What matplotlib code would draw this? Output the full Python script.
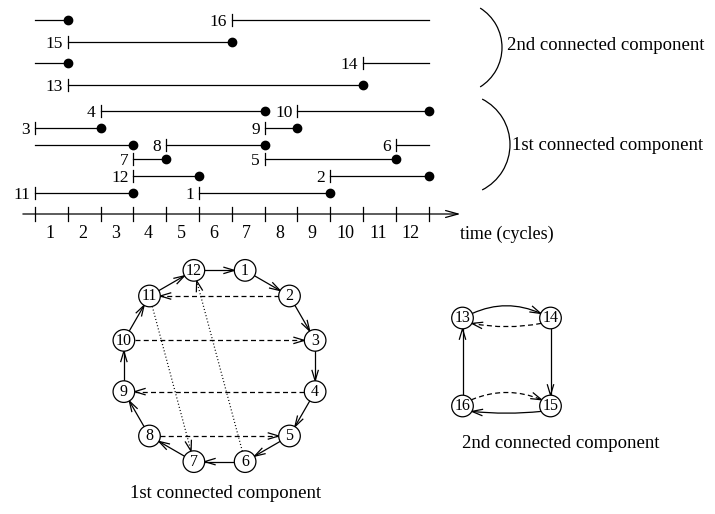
import numpy as np
import matplotlib
matplotlib.use('Agg')
import matplotlib.pyplot as plt
from matplotlib.patches import Circle, Arc, PathPatch
from matplotlib.path import Path

plt.rcParams['font.family'] = ['Liberation Serif', 'DejaVu Serif']

# ---------------- data ----------------
# lifetime intervals (in cycles); end < start means the interval wraps around
interval_ids = [16, 15, 14, 13, 4, 10, 3, 9, 6, 8, 7, 5, 12, 2, 11, 1]
interval_starts = [6, 1, 10, 1, 2, 8, 0, 7, 11, 4, 3, 7, 3, 9, 0, 5]
interval_ends = [1, 6, 1, 10, 7, 12, 2, 8, 3, 7, 4, 11, 5, 12, 3, 9]
interval_lanes = [0, 1, 2, 3, 4, 4, 5, 5, 6, 6, 7, 7, 8, 8, 9, 9]
n_cycles = 12
cycle_labels = ['1', '2', '3', '4', '5', '6', '7', '8', '9', '10', '11', '12']
axis_label = 'time (cycles)'
group_labels = ['2nd connected component', '1st connected component']

# graph of the 1st connected component
g1_nodes = [1, 2, 3, 4, 5, 6, 7, 8, 9, 10, 11, 12]
g1_solid = [(12, 1), (1, 2), (2, 3), (3, 4), (4, 5), (5, 6), (6, 7), (7, 8),
            (8, 9), (9, 10), (10, 11), (11, 12)]
g1_dashed = [(2, 11), (10, 3), (4, 9), (8, 5)]
g1_dotted = [(11, 7), (6, 12)]

# graph of the 2nd connected component
g2_nodes = [13, 14, 15, 16]
g2_straight = [(14, 15), (16, 13)]
g2_curved = [(13, 14, 'solid'), (14, 13, 'dashed'), (16, 15, 'dashed'), (15, 16, 'solid')]

# ---------------- layout / style ----------------
W_PX, H_PX = 715, 514
fig = plt.figure(figsize=(W_PX / 100, H_PX / 100), dpi=100)
LW = 0.9
DASH = (0, (4, 2.6))
DOT = (0, (0.8, 1.8))

# pixel overlay axes for decorations
ax_px = fig.add_axes([0, 0, 1, 1])
ax_px.set_xlim(0, W_PX)
ax_px.set_ylim(H_PX, 0)
ax_px.axis('off')

# timeline axes: x in cycles, y in pixel rows
T0_PX, UNIT_PX = 35.0, 32.8
ax_t = fig.add_axes([0, 0, 1, 1])
ax_t.set_xlim(-T0_PX / UNIT_PX, (W_PX - T0_PX) / UNIT_PX)
ax_t.set_ylim(H_PX, 0)
ax_t.axis('off')
ax_t.patch.set_alpha(0)

lane_y = [20, 42, 63, 85, 110.7, 128.3, 145, 159.3, 176, 193.3]
axis_y = 214
tick_half = 6

for iid, s, e, lane in zip(interval_ids, interval_starts, interval_ends, interval_lanes):
    y = lane_y[lane]
    if e > s:
        ax_t.plot([s, e], [y, y], color='k', lw=LW)
    else:
        ax_t.plot([s, n_cycles], [y, y], color='k', lw=LW)
        ax_t.plot([0, e], [y, y], color='k', lw=LW)
    ax_t.plot([s, s], [y - tick_half, y + tick_half], color='k', lw=LW)
    ax_t.plot([e], [y], 'o', color='k', ms=6.0, mec='k')
    ax_t.annotate(str(iid), xy=(s, y), xytext=(-3.5, -1.3), textcoords='offset points',
                  ha='right', va='center', fontsize=12.5)

# time axis
ax_t.annotate('', xy=(12.97, axis_y), xytext=(-0.37, axis_y),
              arrowprops=dict(arrowstyle='->,head_length=0.9,head_width=0.25',
                              lw=LW, color='k', shrinkA=0, shrinkB=0, mutation_scale=10))
for k in range(n_cycles + 1):
    ax_t.plot([k, k], [axis_y - 7, axis_y + 7], color='k', lw=LW)
for k, lab in enumerate(cycle_labels):
    ax_t.text(k + 0.45, 234, lab, ha='center', va='center', fontsize=13)
ax_px.text(460, 234, axis_label, ha='left', va='center', fontsize=13)

# braces
ax_px.add_patch(Arc((455.5, 47.5), 93, 93, theta1=-58, theta2=58, color='k', lw=LW))
ax_px.add_patch(Arc((459, 144.5), 102, 102, theta1=-63, theta2=63, color='k', lw=LW))
ax_px.text(507, 45, group_labels[0], ha='left', va='center', fontsize=13.5)
ax_px.text(512, 145, group_labels[1], ha='left', va='center', fontsize=13.5)


def draw_head(ax, tip, u, L, W):
    perp = np.array([-u[1], u[0]])
    p1 = tip - u * L + perp * W
    p2 = tip - u * L - perp * W
    ax.plot([p1[0], tip[0], p2[0]], [p1[1], tip[1], p2[1]], color='k', lw=LW,
            solid_joinstyle='miter', solid_capstyle='butt', zorder=3)


def straight_edge(ax, pa, pb, r, ls, L, W):
    pa, pb = np.asarray(pa, float), np.asarray(pb, float)
    u = (pb - pa) / np.linalg.norm(pb - pa)
    s = pa + u * r
    e = pb - u * r
    ax.plot([s[0], e[0]], [s[1], e[1]], color='k', lw=LW, linestyle=ls, zorder=2)
    draw_head(ax, e, u, L, W)


def node(ax, p, lab, r, fs):
    ax.add_patch(Circle(p, r, facecolor='white', edgecolor='k', lw=LW, zorder=4))
    ax.text(p[0], p[1] - 0.005, str(lab), ha='center', va='center', fontsize=fs, zorder=5)


# ---- graph 1 ----
S1 = 99.0  # px per unit
c1 = (219.5, 366.0)
half1 = 130.0
ax_g1 = fig.add_axes([(c1[0] - half1) / W_PX, (H_PX - c1[1] - half1) / H_PX,
                      2 * half1 / W_PX, 2 * half1 / H_PX])
ax_g1.set_xlim(-half1 / S1, half1 / S1)
ax_g1.set_ylim(-half1 / S1, half1 / S1)
ax_g1.axis('off')
ax_g1.patch.set_alpha(0)
pos1 = {}
for i, n in enumerate(g1_nodes):
    ang = np.deg2rad(75 - 30 * i)
    pos1[n] = np.array([np.cos(ang), np.sin(ang)])
r1 = 10.8 / S1
L1, W1 = 11.0 / S1, 3.3 / S1
for a, b in g1_solid:
    straight_edge(ax_g1, pos1[a], pos1[b], r1, '-', L1, W1)
for a, b in g1_dashed:
    straight_edge(ax_g1, pos1[a], pos1[b], r1, DASH, L1, W1)
for a, b in g1_dotted:
    straight_edge(ax_g1, pos1[a], pos1[b], r1, DOT, L1, W1)
for n in g1_nodes:
    node(ax_g1, pos1[n], n, r1, 11.5)
ax_px.text(226, 493, group_labels[1], ha='center', va='center', fontsize=13.5)

# ---- graph 2 ----
S2 = 88.0
c2 = (506.5, 362.0)
half2 = 100.0
ax_g2 = fig.add_axes([(c2[0] - half2) / W_PX, (H_PX - c2[1] - half2) / H_PX,
                      2 * half2 / W_PX, 2 * half2 / H_PX])
ax_g2.set_xlim(0.5 - half2 / S2, 0.5 + half2 / S2)
ax_g2.set_ylim(0.5 - half2 / S2, 0.5 + half2 / S2)
ax_g2.axis('off')
ax_g2.patch.set_alpha(0)
pos2 = {13: np.array([0.0, 1.0]), 14: np.array([1.0, 1.0]),
        15: np.array([1.0, 0.0]), 16: np.array([0.0, 0.0])}
r2 = 10.8 / S2
L2, W2 = 11.0 / S2, 3.3 / S2
for a, b in g2_straight:
    straight_edge(ax_g2, pos2[a], pos2[b], r2, '-', L2, W2)

# attach angles (deg) and control offset (px) for the curved edges
curve_geom = {(13, 14): (25, 155, 20.0), (14, 13): (-150, -30, -12.0),
              (16, 15): (35, 145, 21.0), (15, 16): (-150, -30, -9.0)}
for a, b, sty in g2_curved:
    ta, tb, h = curve_geom[(a, b)]
    P0 = pos2[a] + r2 * np.array([np.cos(np.deg2rad(ta)), np.sin(np.deg2rad(ta))])
    P2 = pos2[b] + r2 * np.array([np.cos(np.deg2rad(tb)), np.sin(np.deg2rad(tb))])
    mid = 0.5 * (pos2[a] + pos2[b])
    C = np.array([0.5 * (P0[0] + P2[0]), mid[1] + h / S2])
    path = Path([P0, C, P2], [Path.MOVETO, Path.CURVE3, Path.CURVE3])
    ls = '-' if sty == 'solid' else DASH
    ax_g2.add_patch(PathPatch(path, facecolor='none', edgecolor='k', lw=LW,
                              linestyle=ls, zorder=2))
    u = (P2 - C) / np.linalg.norm(P2 - C)
    draw_head(ax_g2, P2, u, L2, W2)
for n in g2_nodes:
    node(ax_g2, pos2[n], n, r2, 11.5)
ax_px.text(561, 443, group_labels[0], ha='center', va='center', fontsize=13.5)

fig.savefig('out.png', dpi=100)
